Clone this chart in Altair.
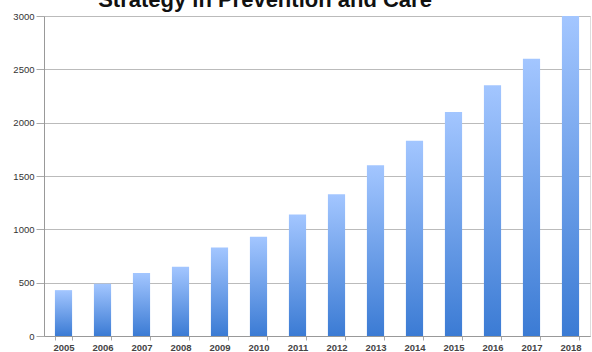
import altair as alt
import pandas as pd

years = ["2005", "2006", "2007", "2008", "2009", "2010", "2011",
         "2012", "2013", "2014", "2015", "2016", "2017", "2018"]
values = [430, 490, 590, 650, 830, 930, 1140,
          1330, 1600, 1830, 2100, 2350, 2600, 3000]
y_ticks = [0, 500, 1000, 1500, 2000, 2500, 3000]
title_text = "Strategy in Prevention and Care"

df = pd.DataFrame({"year": years, "value": values})

gradient = alt.Gradient(
    gradient="linear",
    x1=0, x2=0, y1=0, y2=1,
    stops=[alt.GradientStop(color="#a3c6ff", offset=0),
           alt.GradientStop(color="#3b7bd4", offset=1)],
)

bars = alt.Chart(df).mark_bar(fill=gradient).encode(
    x=alt.X("year:N", sort=years, title=None,
            scale=alt.Scale(paddingInner=0.56, paddingOuter=0.28),
            axis=alt.Axis(labelAngle=0, labelFont="Liberation Sans", labelFontSize=9.5,
                          labelFontWeight="bold", labelColor="#444444",
                          labelPadding=2, tickSize=4, tickBand="extent",
                          tickColor="#aaaaaa", domainColor="#999999", grid=False)),
    y=alt.Y("value:Q", title=None,
            scale=alt.Scale(domain=[0, 3000], nice=False),
            axis=alt.Axis(values=y_ticks, format="d", labelFont="Liberation Sans",
                          labelFontSize=9.5, labelColor="#333333", labelPadding=2,
                          tickSize=8, tickColor="#aaaaaa", domainColor="#999999",
                          gridColor="#bbbbbb", gridWidth=1)),
)

title = alt.Chart(pd.DataFrame({"t": [title_text]})).mark_text(
    font="Liberation Sans", fontSize=22, fontWeight="bold", color="#111111",
    align="center", baseline="alphabetic",
).encode(text="t:N", x=alt.value(221), y=alt.value(-9))

chart = alt.layer(bars, title).properties(
    width=546, height=320,
    autosize=alt.AutoSizeParams(type="none"),
    padding={"left": 44, "top": 16, "right": 2, "bottom": 16},
).configure_view(stroke=None).configure(background="white")

chart.save("out.html", embed_options={"renderer": "svg", "actions": False})
